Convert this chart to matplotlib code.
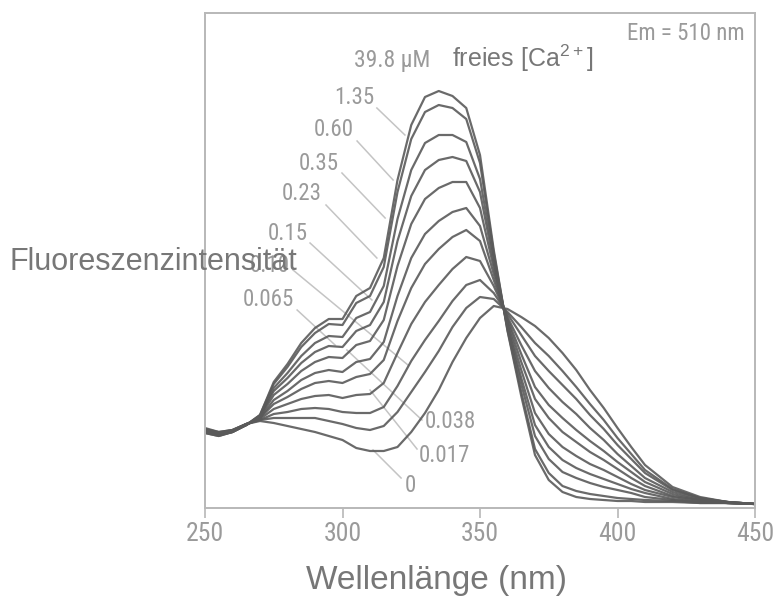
"""
Fura-2 excitation spectra at different free Ca2+ concentrations (Em = 510 nm).
"""
import matplotlib
matplotlib.use("Agg")
import matplotlib.pyplot as plt

NARROW = ['Liberation Sans Narrow', 'Roboto Condensed', 'DejaVu Sans']
REGULAR = ['Liberation Sans', 'DejaVu Sans']
plt.rcParams['font.family'] = NARROW
plt.rcParams['font.stretch'] = 'condensed'
plt.rcParams['mathtext.default'] = 'regular'

LINE = '#5a5a5a'
LABEL = '#9a9a9a'
LEADER = '#c4c4c4'
FRAME = '#b8b8b8'

# ===== data =====
wavelength = [250, 255, 260, 265, 270, 275, 280, 285, 290, 295, 300, 305, 310,
              315, 320, 325, 330, 335, 340, 345, 350, 355, 360, 365, 370, 375,
              380, 385, 390, 395, 400, 405, 410, 420, 430, 440, 450]

ca_0 = [80, 76, 78, 84, 87, 85, 82, 79, 76, 72, 68, 60, 57, 57, 61, 76, 95, 118, 146,
        170, 190, 202, 199, 191, 182, 170, 155, 138, 118, 100, 80, 61, 43, 21, 11, 6, 4]
ca_0017 = [79, 76, 78, 84, 88, 90, 90, 90, 90, 87, 84, 80, 78, 82, 96, 116, 136, 157, 181,
           200, 211, 209, 196, 181, 165, 152, 137, 121, 104, 88, 70, 54, 38, 19, 10, 6, 4]
ca_0038 = [79, 75, 78, 84, 88, 94, 96, 99, 100, 99, 96, 95, 95, 101, 122, 147, 168, 187, 207,
           223, 228, 215, 194, 173, 152, 137, 123, 109, 93, 79, 63, 49, 35, 18, 10, 6, 4]
ca_0065 = [78, 75, 77, 84, 89, 99, 104, 109, 112, 113, 110, 113, 114, 125, 155, 184, 206, 223, 239,
           251, 247, 222, 191, 163, 137, 120, 106, 94, 80, 68, 54, 42, 30, 16, 9, 6, 4]
ca_010 = [78, 74, 77, 84, 90, 104, 111, 119, 125, 127, 125, 131, 134, 148, 187, 220, 244, 259, 271,
          278, 267, 228, 189, 154, 121, 103, 90, 78, 67, 57, 46, 36, 26, 14, 8, 6, 4]
ca_015 = [77, 74, 77, 83, 90, 108, 117, 128, 135, 138, 136, 146, 149, 166, 212, 250, 274, 287, 296,
          300, 282, 234, 187, 146, 109, 90, 76, 66, 56, 48, 39, 30, 22, 12, 8, 5, 4]
ca_023 = [77, 73, 77, 83, 91, 113, 124, 137, 146, 151, 150, 163, 167, 188, 242, 284, 309, 320, 326,
          326, 300, 240, 184, 138, 95, 74, 61, 52, 44, 38, 31, 24, 18, 11, 7, 5, 4]
ca_035 = [76, 73, 76, 83, 92, 117, 130, 145, 156, 162, 161, 177, 183, 206, 267, 312, 338, 348, 351,
          347, 316, 245, 182, 130, 83, 61, 48, 40, 34, 29, 24, 19, 15, 9, 6, 5, 4]
ca_060 = [76, 73, 76, 83, 92, 120, 135, 152, 165, 172, 171, 190, 196, 222, 289, 338, 365, 373, 373,
          366, 329, 250, 180, 124, 72, 49, 36, 30, 25, 21, 18, 15, 11, 8, 6, 5, 4]
ca_135 = [75, 72, 76, 83, 93, 124, 141, 161, 175, 184, 183, 205, 212, 241, 316, 369, 396, 403, 400,
          389, 345, 255, 178, 116, 59, 35, 22, 17, 14, 12, 10, 9, 8, 7, 5, 5, 4]
ca_398 = [75, 72, 76, 83, 93, 126, 144, 165, 180, 189, 189, 212, 220, 250, 328, 383, 411, 417, 412,
          400, 353, 258, 177, 112, 53, 28, 16, 11, 9, 8, 7, 7, 6, 6, 5, 5, 4]

spectra = [ca_0, ca_0017, ca_0038, ca_0065, ca_010, ca_015, ca_023, ca_035, ca_060, ca_135, ca_398]

x_ticks = [250, 300, 350, 400, 450]

# label text, text anchor (x, y), leader start, leader end
left_labels = [
    ("1.35", (311.5, 410), (312.5, 400), (322.7, 373)),
    ("0.60", (304.2, 378), (305.3, 367), (318.4, 328)),
    ("0.35", (298.7, 344), (299.8, 335), (315.5, 290)),
    ("0.23", (292.5, 314), (294.0, 303), (312.5, 250)),
    ("0.15", (287.5, 274), (288.2, 265), (310.7, 208)),
    ("0.10", (280.9, 242), (282.0, 238), (323.8, 143)),
    ("0.065", (282.4, 208), (283.5, 198), (297.3, 163)),
]
right_labels = [
    ("0.038", (330.0, 86), (328.9, 88), (301.6, 158)),
    ("0.017", (327.8, 53), (327.1, 59), (310.0, 118)),
    ("0", (322.7, 23), (321.3, 30), (311.1, 58)),
]

# =========================
# ===== Chart =====
# =========================
fig = plt.figure(figsize=(7.78, 6.01), dpi=100)
ax = fig.add_axes([205 / 778, 93 / 601, 550 / 778, 495 / 601])

for spec in spectra:
    ax.plot(wavelength, spec, color=LINE, lw=1.6, alpha=0.9, solid_joinstyle='round')

for text, pos, start, end in left_labels:
    ax.text(pos[0], pos[1], text, ha='right', va='center', fontsize=16.5, color=LABEL)
    ax.plot([start[0], end[0]], [start[1], end[1]], color=LEADER, lw=1.1, zorder=0)
for text, pos, start, end in right_labels:
    ax.text(pos[0], pos[1], text, ha='left', va='center', fontsize=16.5, color=LABEL)
    ax.plot([start[0], end[0]], [start[1], end[1]], color=LEADER, lw=1.1, zorder=0)

ax.text(331.8, 447, "39.8 µM", ha='right', va='center', fontsize=17, color=LABEL)
ax.text(339.8, 441, r"freies [Ca$^{2+}$]", ha='left', va='baseline', fontsize=18,
        color='#777777', family=REGULAR, stretch='normal')
ax.text(446.4, 474, "Em = 510 nm", ha='right', va='center', fontsize=16.5, color=LABEL)

ax.set_xlim(250, 450)
ax.set_ylim(0, 495)
ax.set_xticks(x_ticks)
ax.set_yticks([])
ax.tick_params(axis='x', direction='out', length=7, width=1.2, color=FRAME,
               labelcolor=LABEL, labelsize=18.5, pad=3)
for side in ['left', 'right', 'top', 'bottom']:
    ax.spines[side].set_color(FRAME)
    ax.spines[side].set_linewidth(1.4)

fig.text(10 / 778, 1 - 262 / 601, "Fluoreszenzintensität", ha='left', va='center',
         fontsize=22, color='#777777', family=REGULAR, stretch='normal')
fig.text(436 / 778, 1 - 580 / 601, "Wellenlänge (nm)", ha='center', va='center',
         fontsize=24, color='#777777', family=REGULAR, stretch='normal')

plt.savefig("out.png", dpi=100)
plt.close()
